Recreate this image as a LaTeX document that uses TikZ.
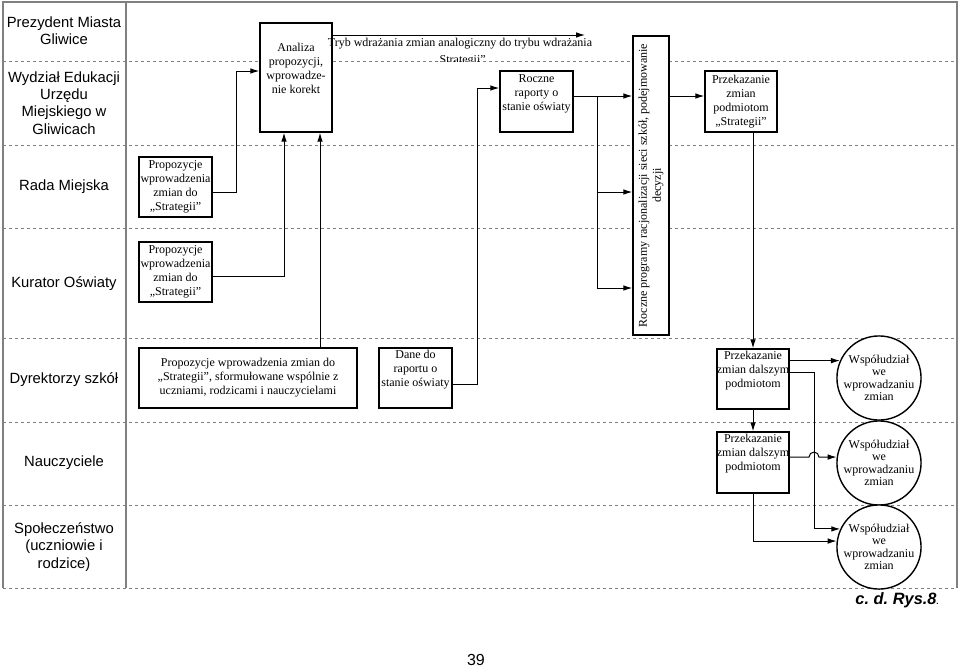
\documentclass[tikz,border=0pt]{standalone}
\usepackage{fontspec}
\setmainfont{Liberation Serif}
\setsansfont{Liberation Sans}
\usetikzlibrary{arrows.meta}
\definecolor{lanegray}{gray}{0.5}
\begin{document}
\begin{tikzpicture}[x=0.5pt, y=-0.5pt, >={Latex[length=4.5pt,width=2.8pt]}, line width=.5pt,
lane label/.style={font=\sffamily\fontsize{7.4}{8.6}\selectfont, align=center},
main box/.style={draw, fill=white, line width=.7pt, inner sep=0pt, align=center, font=\fontsize{6}{7}\selectfont},
box text/.style={inner sep=0pt, align=center, font=\fontsize{6}{7}\selectfont},
part circle/.style={circle, draw, fill=white, line width=.7pt, minimum size=42pt, inner sep=0pt, align=center, font=\fontsize{6}{6.2}\selectfont},
lane line/.style={lanegray, dash pattern=on 1.5pt off 1.5pt},
frame line/.style={lanegray, line width=.7pt}]
\useasboundingbox (0,0) rectangle (960,670);
\draw[frame line] (3,588) -- (3,2) -- (957,2) -- (957,588);
\draw[frame line] (126,2) -- (126,588);
\foreach \y in {61,145,228,338,422,505,588}
  \draw[lane line] (3,\y) -- (957,\y);
\begin{scope}[every node/.style={lane label}]
\node (prez) at (64,31) {Prezydent Miasta\\Gliwice};
\node (wydz) at (64,103) {Wydział Edukacji\\Urzędu\\Miejskiego w\\Gliwicach};
\node (rada lane) at (64,187) {Rada Miejska};
\node (kur lane) at (64,284) {Kurator Oświaty};
\node (dyr lane) at (64,380) {Dyrektorzy szkół};
\node (nau lane) at (64,463) {Nauczyciele};
\node (spo lane) at (64,547) {Społeczeństwo\\(uczniowie i\\rodzice)};
\end{scope}
\node[main box, minimum width=36pt, minimum height=54.5pt] (ana) at (296,77.5) {};
\node[box text] (ana txt) at (296,68) {Analiza\\propozycji,\\wprowadze-\\nie korekt};
\node[main box, minimum width=36.5pt, minimum height=30pt] (rada) at (175.5,187) {Propozycje\\wprowadzenia\\zmian do\\„Strategii”};
\node[main box, minimum width=36.5pt, minimum height=30pt] (kur) at (175.5,272) {Propozycje\\wprowadzenia\\zmian do\\„Strategii”};
\node[main box, minimum width=109pt, minimum height=30pt] (dyrp) at (248,378) {Propozycje wprowadzenia zmian do\\„Strategii”, sformułowane wspólnie z\\uczniami, rodzicami i nauczycielami};
\node[main box, minimum width=36.5pt, minimum height=30pt] (dane) at (415.5,378) {};
\node[box text] (dane txt) at (415.5,370) {Dane do\\raportu o\\stanie oświaty};
\node[main box, minimum width=36.5pt, minimum height=30.5pt] (rap) at (536.5,101.5) {};
\node[box text] (rap txt) at (536.5,94) {Roczne\\raporty o\\stanie oświaty};
\node[main box, minimum width=18pt, minimum height=149.5pt] (prog) at (651,185.5) {};
\node[box text, rotate=90] (prog txt) at (prog) {Roczne programy racjonalizacji sieci szkół, podejmowanie\\decyzji};
\node[main box, minimum width=36pt, minimum height=30.5pt] (prz1) at (741,101.5) {Przekazanie\\zmian\\podmiotom\\„Strategii”};
\node[main box, minimum width=36pt, minimum height=30pt] (prz2) at (753,379) {};
\node[box text] (prz2 txt) at (753,371) {Przekazanie\\zmian dalszym\\podmiotom};
\node[main box, minimum width=36pt, minimum height=30.5pt] (prz3) at (753,462.5) {};
\node[box text] (prz3 txt) at (753,454) {Przekazanie\\zmian dalszym\\podmiotom};
\node[part circle] (c1) at (879,378) {Współudział\\we\\wprowadzaniu\\zmian};
\node[part circle] (c2) at (879,463) {Współudział\\we\\wprowadzaniu\\zmian};
\node[part circle] (c3) at (879,547) {Współudział\\we\\wprowadzaniu\\zmian};
\begin{scope}
\clip (300,25) rectangle (640,61);
\node[box text, font=\fontsize{6}{8.5}\selectfont] (tryb) at (460,52) {Tryb wdrażania zmian analogiczny do trybu wdrażania\\„Strategii”};
\end{scope}
\coordinate (tryb end) at (585,35);
\coordinate (split) at (597,96);
\draw[->] ([yshift=-2.5pt]rada.east) -- ++(24,0) |- ([yshift=3.25pt]ana.west);
\draw[->] ([yshift=-2pt]kur.east) -| ([xshift=-6pt]ana.south);
\draw[->] ([xshift=36pt]dyrp.north) -- ([xshift=12pt]ana.south);
\draw[->] (ana.east |- tryb end) -- (tryb end);
\draw[->] ([yshift=-3pt]dane.east) -- ++(25,0) |- ([yshift=6.75pt]rap.west);
\draw[->] (rap.east |- split) -- (prog.west |- split);
\draw[->] (split) |- (prog.west |- 0,192);
\draw[->] (split) |- (prog.west |- 0,288);
\draw[->] (prog.east |- split) -- (prz1.west |- split);
\draw[->] ([xshift=6pt]prz1.south) -- (prz2.north);
\draw[->] (prz2.south) -- (prz3.north);
\draw[->] (prz2.east |- c1.156) -- (c1.156);
\draw[->] (prz2.east |- 0,372) -- ++(25,0) |- (c3.155);
\draw[->] (prz3.east |- c2.172) -- (809,0 |- c2.172) arc[start angle=180, end angle=0, radius=2.5pt] -- (c2.172);
\draw[->] (prz3.south) |- (c3.172);
\node[anchor=base east, font=\sffamily\bfseries\itshape\fontsize{8.2}{10}\selectfont] (rys) at (946,604) {c.\ d.\ Rys.8{\fontsize{4}{5}\selectfont.}};
\node[font=\sffamily\fontsize{8}{10}\selectfont] (page) at (476,660) {39};
\end{tikzpicture}
\end{document}
